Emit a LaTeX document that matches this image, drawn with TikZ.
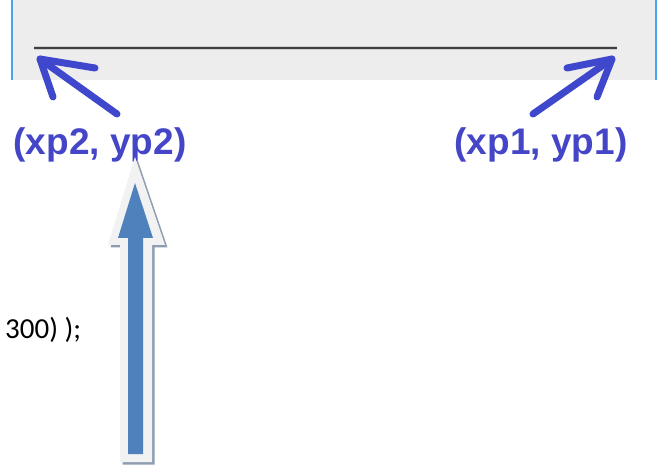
\documentclass[tikz,border=0pt]{standalone}
\usepackage{fontspec}
\setmainfont{Liberation Sans}
\newfontfamily\calibrilike{Carlito}
\definecolor{panelgrey}{HTML}{EDEDED}
\definecolor{edgeblue}{HTML}{4AA3F0}
\definecolor{penblue}{HTML}{3F48CC}
\definecolor{labelblue}{HTML}{4545C8}
\definecolor{arrowfill}{HTML}{4F81BD}
\definecolor{arrowpale}{HTML}{F2F2F2}
\definecolor{arrowshadow}{HTML}{8E9DB0}
\tikzset{
  pen/.style={draw=penblue, line width=7pt, line cap=round, line join=round},
  coordlabel/.style={text=labelblue, font=\fontsize{37}{40}\selectfont\bfseries, anchor=base, inner sep=0pt},
  codetext/.style={font=\calibrilike\fontsize{29}{32}\selectfont, anchor=base west, inner sep=0pt},
}
\begin{document}
\begin{tikzpicture}[x=1pt, y=-1pt]
\useasboundingbox (0,0) rectangle (661,470);

% window strip with its blue side borders
\fill[panelgrey] (12,0) rectangle (656,80);
\draw[edgeblue, line width=2pt] (12,0) -- (12,80);
\draw[edgeblue, line width=2pt] (656,0) -- (656,80);

% the drawn line and its end points
\coordinate (p2) at (34,48);
\coordinate (p1) at (617,48);
\draw[black!20, line width=3.5pt] (p2) -- (p1);
\draw[black!75, line width=1.6pt] (p2) -- (p1);

% coordinate labels
\node[coordlabel] (lab2) at (100,155) {(xp2, yp2)};
\node[coordlabel] (lab1) at (541,155) {(xp1, yp1)};

% hand-drawn pointers from the labels to the line ends
\coordinate (tip2) at (40,59);
\coordinate (tail2) at (117,114);
\draw[pen] (tail2) -- (tip2);
\draw[pen] (95,68) -- (tip2) -- (53,97);

\coordinate (tip1) at (612,59);
\coordinate (tail1) at (533,114);
\draw[pen] (tail1) -- (tip1);
\draw[pen] (567,68) -- (tip1) -- (597,97);

% fragment of source code text
\node[codetext] (code) at (5,338) {300) );};

% block arrow pointing at the second label
\coordinate (btip) at (135,157);
\fill[arrowshadow] ([shift={(2.5,2.5)}]btip) -- (167.5,247.5) -- (154.5,247.5) -- (154.5,464.5)
  -- (122.5,464.5) -- (122.5,247.5) -- (110.5,247.5) -- cycle;
\fill[arrowpale] (btip) -- (165,245) -- (152,245) -- (152,462) -- (120,462) -- (120,245) -- (108,245) -- cycle;
\fill[arrowfill] (135,183) -- (153,238) -- (143,238) -- (143,454) -- (128,454) -- (128,238) -- (118,238) -- cycle;
\end{tikzpicture}
\end{document}
